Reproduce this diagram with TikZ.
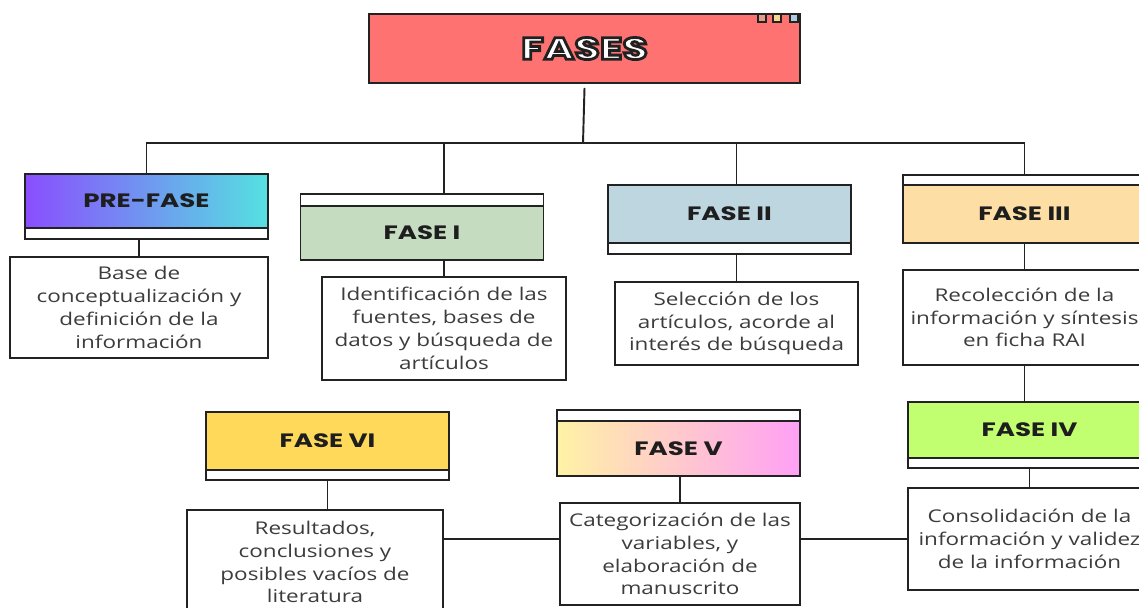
\documentclass[tikz,border=0pt]{standalone}
\usepackage{fontspec}
\setmainfont{Open Sans}[FakeStretch=1.28]
\newfontfamily\headfont{Poppins}[FakeStretch=1.35]
\usetikzlibrary{positioning}
\definecolor{linegray}{RGB}{34,34,34}
\definecolor{headgray}{RGB}{30,30,30}
\definecolor{descgray}{RGB}{60,60,60}
\definecolor{fasered}{RGB}{255,114,114}
\definecolor{sqred}{RGB}{222,160,140}
\definecolor{sqyellow}{RGB}{250,215,140}
\definecolor{sqblue}{RGB}{170,205,225}
\definecolor{preleft}{RGB}{138,78,255}
\definecolor{preright}{RGB}{85,225,225}
\definecolor{fgreen}{RGB}{197,220,192}
\definecolor{fblue}{RGB}{189,214,224}
\definecolor{forange}{RGB}{253,222,164}
\definecolor{flime}{RGB}{194,255,112}
\definecolor{fvleft}{RGB}{255,242,165}
\definecolor{fvright}{RGB}{255,160,245}
\definecolor{fyellow}{RGB}{255,217,90}
\newcommand{\outlined}[1]{\special{pdf:literal direct 2 Tr 1.6 w 0.13 0.13 0.13 RG}#1\special{pdf:literal direct 0 Tr}}

\begin{document}
\begin{tikzpicture}[x=0.02cm,y=-0.02cm]

%
% Styles
%
\tikzstyle{phase} = [rectangle,draw=linegray,line width=1.1pt,outer sep=0pt,inner sep=0pt,minimum width=4.86cm,minimum height=1.12cm,font=\headfont\bfseries\fontsize{11}{13}\selectfont,text=headgray]
\tikzstyle{strip} = [rectangle,draw=linegray,fill=white,line width=1.1pt,outer sep=0pt,inner sep=0pt,minimum width=4.86cm,minimum height=0.22cm]
\tikzstyle{desc} = [rectangle,draw=linegray,fill=white,line width=1.1pt,align=center,inner sep=0pt,font=\fontsize{10}{13}\selectfont,text=descgray]
\tikzstyle{square} = [rectangle,draw=linegray,line width=0.6pt,minimum size=0.16cm,inner sep=0pt]
\tikzstyle{link} = [draw=linegray,line width=1.1pt]

\useasboundingbox (0,0) rectangle (1139,608);
\clip (0,0) rectangle (1139,608);

% title
\node[phase,fill=fasered,minimum width=8.62cm,minimum height=1.38cm,text=white] (top) at (584.5,48.5) {\fontsize{17.5}{20}\selectfont\outlined{FASES}};
\node[square,fill=sqred] (sq1) at (762,18) {};
\node[square,fill=sqyellow] (sq2) at (777,18) {};
\node[square,fill=sqblue] (sq3) at (794,18) {};

% first row
\node[phase,left color=preleft,right color=preright,minimum height=1.08cm] (pre) at (146.5,201) {PRE-FASE};
\node[strip,below=0pt of pre] (pres) {};
\node[phase,fill=fgreen,minimum height=1.08cm] (f1) at (422,233) {FASE I};
\node[strip,above=0pt of f1,minimum height=0.24cm] (f1s) {};
\node[phase,fill=fblue,minimum height=1.16cm] (f2) at (729.5,214) {FASE II};
\node[strip,below=0pt of f2] (f2s) {};
\node[phase,fill=forange,minimum height=1.16cm] (f3) at (1024.5,214) {FASE III};
\node[strip,above=0pt of f3,minimum height=0.2cm] (f3s) {};

\node[desc,minimum width=5.16cm,minimum height=2.02cm] (d0) at (139,307.5) {Base de\\conceptualización y\\definición de la\\información};
\node[desc,minimum width=4.88cm,minimum height=2.06cm] (d1) at (444,328.5) {Identificación de las\\fuentes, bases de\\datos y búsqueda de\\artículos};
\node[desc,minimum width=4.86cm,minimum height=1.66cm] (d2) at (736.5,323.5) {Selección de los\\artículos, acorde al\\interés de búsqueda};
\node[desc,minimum width=4.86cm,minimum height=1.9cm] (d3) at (1024.5,317.5) {Recolección de la\\información y síntesis\\en ficha RAI};

% second row
\node[phase,fill=flime,minimum height=1.12cm] (f4) at (1029.5,430) {FASE IV};
\node[strip,below=0pt of f4,minimum height=0.2cm] (f4s) {};
\node[phase,left color=fvleft,right color=fvright,minimum height=1.1cm] (f5) at (678.5,448.5) {FASE V};
\node[strip,above=0pt of f5] (f5s) {};
\node[phase,fill=fyellow,minimum height=1.16cm] (f6) at (327.5,441) {FASE VI};
\node[strip,below=0pt of f6,minimum height=0.2cm] (f6s) {};

\node[desc,minimum width=4.86cm,minimum height=2.04cm] (d4) at (1029.5,539) {Consolidación de la\\información y validez\\de la información};
\node[desc,minimum width=4.8cm,minimum height=2.04cm] (d5) at (680,554) {Categorización de las\\variables, y\\elaboración de\\manuscrito};
\node[desc,minimum width=5.12cm,minimum height=2.08cm] (d6) at (315,562) {Resultados,\\conclusiones y\\posibles vacíos de\\literatura};

% connectors
\coordinate (bus) at (583,143);
\draw[link] ([yshift=-0.1cm]top.south) -- (bus);
\draw[link] (pre.north) -- (pre.north |- bus) -- (f3s.north |- bus) -- (f3s.north);
\draw[link] (f1s.north -| d1.north) -- (bus -| d1.north);
\draw[link] (f2.north -| d2.north) -- (bus -| d2.north);
\draw[link] (pres.south -| d0.north) -- (d0.north);
\draw[link] (f1.south -| d1.north) -- (d1.north);
\draw[link] (f2s.south -| d2.north) -- (d2.north);
\draw[link] (f3.south -| d3.north) -- (d3.north);
\draw[link] (d3.south) -- (f4.north -| d3.south);
\draw[link] (f4s.south -| d4.north) -- (d4.north);
\draw[link] (f5.south -| d5.north) -- (d5.north);
\draw[link] (f6s.south) -- (f6s.south |- d6.north);
\draw[link] (d4.west) -- (d4.west -| d5.east);
\draw[link] (d4.west -| d5.west) -- (d4.west -| d6.east);

\end{tikzpicture}
\end{document}
